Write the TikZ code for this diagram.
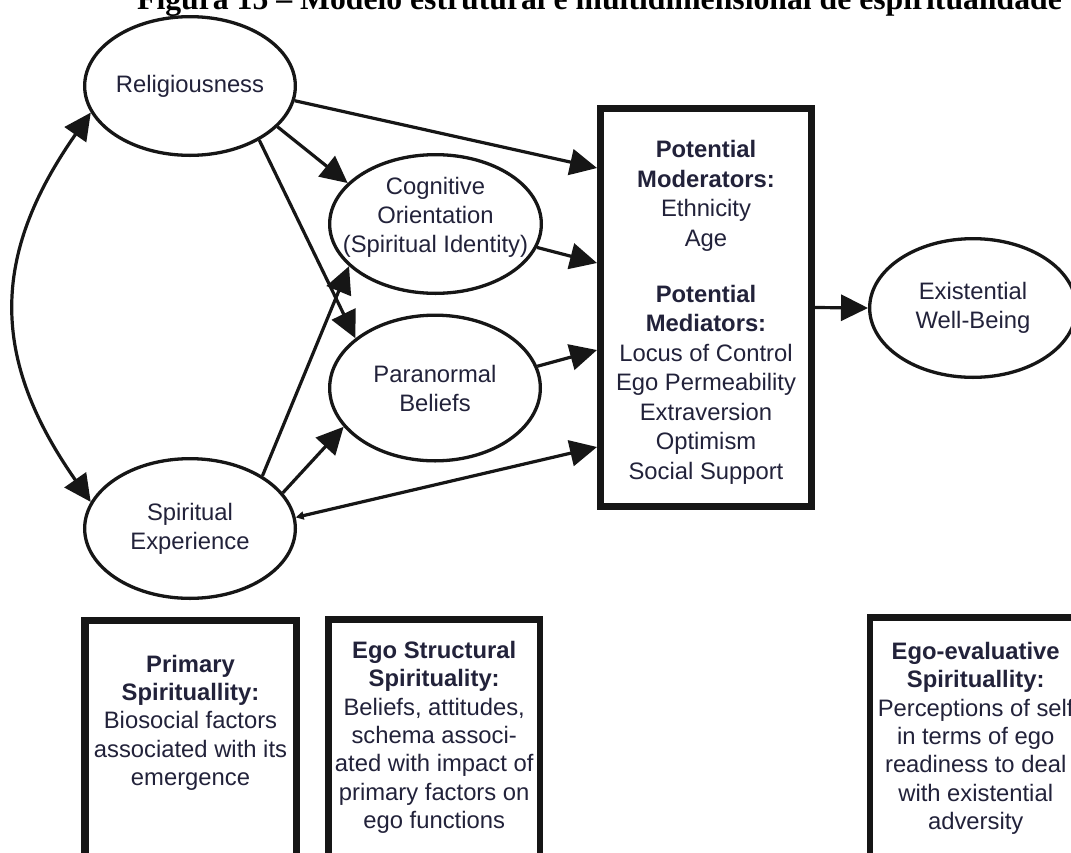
\documentclass[tikz,border=0pt]{standalone}
\usepackage{fontspec}
\setmainfont{Liberation Sans}
\newfontfamily\titlefont{Liberation Serif}
\usetikzlibrary{shapes.geometric,arrows.meta}
\definecolor{ink}{RGB}{22,22,22}
\definecolor{txt}{RGB}{34,34,58}
\newcommand\dfont{\fontsize{23.8}{29}\selectfont}
\newcommand\mfont{\fontsize{23.8}{29.5}\selectfont}
\newcommand\bfontsz{\fontsize{23.8}{28.3}\selectfont}
\tikzset{
  ell/.style={ellipse, draw=ink, line width=3.3pt, inner sep=0pt, align=center, text=txt, font=\dfont},
  modbox/.style={rectangle, draw=ink, line width=7pt, inner sep=0pt},
  infobox/.style={rectangle, draw=ink, line width=6.7pt, inner sep=0pt, anchor=north, minimum width=211.6pt, minimum height=285pt},
  lbl/.style={align=center, text=txt, inner sep=0pt},
  arr/.style={draw=ink, line width=3.2pt, -{Triangle[length=27pt,width=26pt]}},
  dblarr/.style={draw=ink, line width=3.2pt, {Triangle[length=27pt,width=26pt]}-{Triangle[length=27pt,width=26pt]}},
  smallarr/.style={draw=ink, line width=3.2pt, {Triangle[length=8pt,width=8pt]}-{Triangle[length=27pt,width=26pt]}},
}
\begin{document}
\begin{tikzpicture}[x=1pt,y=1pt]
\useasboundingbox (0,0) rectangle (1071,-852);
\fill[white] (0,0) rectangle (1071,-852);
\clip (0,0) rectangle (1071,-852);

% title (cut at the top of the page)
\node[anchor=base west, inner sep=0pt, text=black, font=\titlefont\fontsize{31.7}{36}\selectfont\bfseries] (title) at (137,-9)
  {Figura 15 – Modelo estrutural e multidimensional de espiritualidade};

% ellipses
\node[ell, minimum width=210.7pt, minimum height=138.7pt] (rel) at (190,-86) {Religiousness};
\node[ell, minimum width=211.7pt, minimum height=138.7pt,
      label={[lbl, font=\dfont, yshift=7pt]center:Cognitive\\Orientation\\(Spiritual Identity)}] (cog) at (435.5,-224) {};
\node[ell, minimum width=210.7pt, minimum height=145.7pt] (para) at (435,-388) {Paranormal\\Beliefs};
\node[ell, minimum width=210.7pt, minimum height=139.7pt] (se) at (190,-528.5) {Spiritual\\Experience};
\node[ell, minimum width=206.7pt, minimum height=138.7pt] (ewb) at (973,-308) {Existential\\Well-Being};

% moderators / mediators box
\node[modbox, minimum width=211pt, minimum height=398pt,
      label={[lbl, font=\mfont, yshift=-5pt]center:\textbf{Potential}\\\textbf{Moderators:}\\Ethnicity\\Age\\[26.5pt]\textbf{Potential}\\\textbf{Mediators:}\\Locus of Control\\Ego Permeability\\Extraversion\\Optimism\\Social Support}] (box) at (706,-307.5) {};

% bottom boxes
\node[infobox, line width=7.5pt, minimum width=211.5pt,
      label={[lbl, font=\bfontsz, yshift=40.25pt]center:\textbf{Primary}\\\textbf{Spirituallity:}\\Biosocial factors\\associated with its\\emergence}] (prim) at (190.5,-616.75) {};
\node[infobox,
      label={[lbl, font=\bfontsz, yshift=24.85pt]center:\textbf{Ego Structural}\\\textbf{Spirituality:}\\Beliefs, attitudes,\\schema associ-\\ated with impact of\\primary factors on\\ego functions}] (egos) at (434.2,-616.35) {};
\node[infobox,
      label={[lbl, font=\bfontsz, yshift=21.5pt]center:\textbf{Ego-evaluative}\\\textbf{Spirituallity:}\\Perceptions of self\\in terms of ego\\readiness to deal\\with existential\\adversity}] (egoe) at (975.7,-614) {};

% connectors
\draw[dblarr] (rel.195) .. controls +(235:175) and +(125:175) .. (se.165);
\draw[arr] (rel.352) -- ([yshift=139.5pt]box.west);
\draw[arr] (rel.335) -- (cog.155);
\draw[arr] (rel.322) -- (para.148);
\draw[arr] (cog.347) -- ([yshift=44.5pt]box.west);
\draw[arr] (para.12) -- ([yshift=-42.5pt]box.west);
\draw[arr] (se.36) -- (cog.206);
\draw[arr] (se.21) -- (para.203);
\draw[smallarr] (se.6) -- ([yshift=-139.5pt]box.west);
\draw[arr] (box.east) -- (ewb.west);
\end{tikzpicture}
\end{document}
